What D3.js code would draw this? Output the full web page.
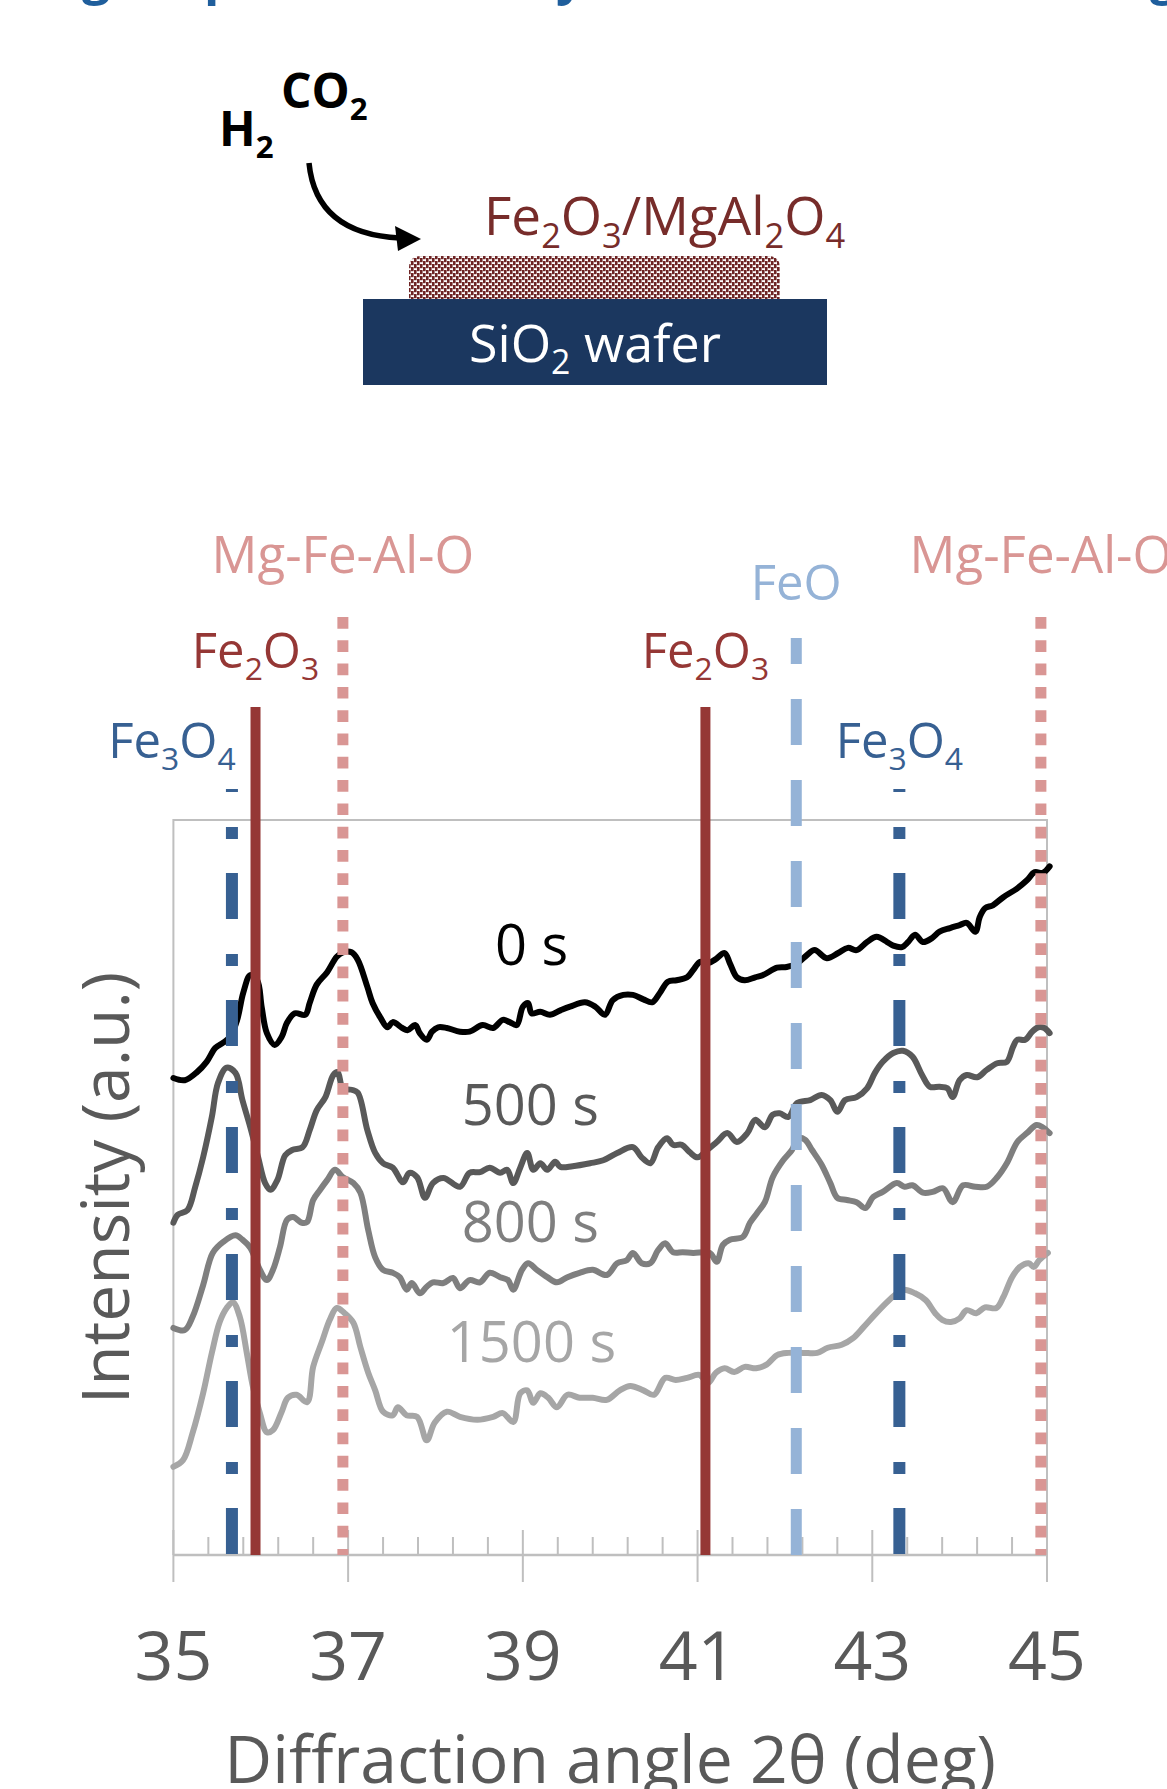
<!DOCTYPE html>
<html>
<head>
<meta charset="utf-8">
<script src="https://cdn.jsdelivr.net/npm/d3@7/dist/d3.min.js"></script>
<style>
  html, body { margin: 0; padding: 0; background: #fff; }
  svg { display: block; font-family: 'Open Sans', sans-serif; }
</style>
</head>
<body>
<div id="container"></div>
<script>
// XRD scans (2theta in deg, stacked intensity in a.u.)
const angle0 = [35.00,35.13,35.27,35.38,35.48,35.57,35.65,35.73,35.80,35.88,35.96,36.01,36.07,36.16,36.24,36.30,36.39,36.51,36.56,36.64,36.76,36.87,36.94,37.04,37.11,37.22,37.28,37.37,37.45,37.51,37.62,37.68,37.77,37.82,37.90,37.96,38.03,38.13,38.28,38.39,38.54,38.66,38.77,38.85,38.93,39.00,39.06,39.10,39.20,39.31,39.43,39.54,39.71,39.83,39.94,40.03,40.15,40.26,40.38,40.48,40.57,40.66,40.76,40.88,40.95,41.03,41.12,41.20,41.31,41.37,41.45,41.54,41.66,41.75,41.91,42.02,42.14,42.25,42.34,42.48,42.61,42.72,42.82,42.94,43.05,43.17,43.24,43.34,43.41,43.49,43.58,43.68,43.77,43.89,44.00,44.08,44.18,44.23,44.29,44.38,44.50,44.66,44.77,44.86,44.95,45.03];
const int0 = [64.9,64.6,65.7,67.1,69.0,69.7,70.5,72.8,76.5,78.9,78.2,74.6,71.0,69.4,70.5,72.4,73.7,73.5,75.1,77.6,79.3,81.4,82.0,82.0,81.0,77.3,75.1,73.1,71.8,72.5,71.7,71.4,72.1,71.0,70.1,71.2,71.8,71.7,71.2,71.2,72.1,71.7,72.8,72.5,72.1,74.6,75.1,73.7,73.9,73.5,74.1,74.6,75.2,74.6,73.5,75.5,76.2,76.2,75.6,75.2,76.5,78.0,78.2,78.6,79.6,80.7,80.5,81.0,81.9,80.5,78.6,78.2,78.6,78.9,79.9,80.0,80.5,81.6,82.3,81.2,81.9,82.6,82.3,83.4,84.1,83.4,82.9,82.7,83.4,84.4,83.4,83.9,84.8,85.3,85.7,86.0,84.8,86.8,88.0,88.4,89.5,90.7,91.8,92.9,92.8,93.7];

const angle500 = [35.00,35.05,35.16,35.25,35.34,35.44,35.51,35.61,35.71,35.79,35.88,35.97,36.05,36.11,36.19,36.28,36.36,36.48,36.56,36.64,36.74,36.83,36.88,36.94,37.04,37.11,37.22,37.31,37.40,37.51,37.63,37.70,37.79,37.88,37.97,38.09,38.28,38.39,38.51,38.62,38.74,38.82,38.89,38.97,39.05,39.12,39.20,39.28,39.37,39.43,39.57,39.77,39.92,40.08,40.26,40.36,40.46,40.55,40.65,40.72,40.82,40.91,41.00,41.11,41.22,41.34,41.45,41.57,41.66,41.77,41.86,41.94,42.04,42.14,42.29,42.42,42.52,42.60,42.69,42.82,42.94,43.03,43.12,43.24,43.35,43.46,43.57,43.66,43.77,43.86,43.92,44.00,44.08,44.20,44.31,44.43,44.54,44.61,44.66,44.75,44.83,44.90,44.97,45.03];
const int500 = [45.2,46.3,46.9,50.1,54.1,59.6,64.2,66.3,65.6,61.9,58.2,54.1,50.6,49.7,51.0,54.4,55.1,55.5,57.8,60.5,62.3,65.3,65.7,63.5,63.3,62.9,57.8,54.7,53.3,52.7,50.7,52.0,51.4,48.6,50.6,51.3,50.1,52.0,52.1,52.7,52.0,52.4,50.6,52.7,54.7,52.4,53.3,52.4,53.5,52.8,52.9,53.3,53.7,54.7,55.5,54.1,53.3,55.5,56.7,55.8,55.8,54.8,54.1,55.1,56.2,57.4,56.2,57.4,59.2,58.2,59.9,60.1,59.6,61.5,61.9,62.6,61.9,60.3,61.9,62.3,63.5,65.6,67.1,68.3,68.6,67.8,65.3,63.7,63.7,63.5,62.3,64.6,65.3,65.0,66.0,66.9,67.1,69.1,70.1,70.1,71.2,71.8,71.7,71.0];

const angle800 = [35.00,35.13,35.22,35.34,35.45,35.57,35.71,35.79,35.88,35.99,36.07,36.14,36.22,36.30,36.37,36.47,36.53,36.60,36.68,36.76,36.85,36.94,37.06,37.14,37.23,37.31,37.40,37.51,37.59,37.67,37.73,37.82,37.90,37.97,38.09,38.20,38.28,38.39,38.51,38.62,38.74,38.83,38.89,38.99,39.06,39.16,39.28,39.39,39.51,39.65,39.80,39.96,40.08,40.19,40.26,40.36,40.46,40.55,40.63,40.72,40.83,40.95,41.14,41.22,41.29,41.37,41.52,41.60,41.68,41.77,41.86,41.98,42.08,42.15,42.23,42.31,42.42,42.52,42.60,42.71,42.82,42.92,43.01,43.12,43.28,43.37,43.46,43.58,43.69,43.81,43.92,44.04,44.18,44.31,44.43,44.54,44.66,44.77,44.88,44.95,45.03];
const int800 = [30.9,30.6,32.4,36.7,41.1,42.6,43.5,42.9,41.8,38.8,37.4,38.8,41.9,45.6,46.0,45.2,45.3,48.3,49.7,51.0,52.4,51.4,50.6,49.3,44.2,40.5,38.8,38.4,37.8,36.1,37.0,35.6,36.5,37.1,37.0,37.7,36.3,37.4,37.1,38.4,37.8,37.4,36.1,38.8,39.7,38.8,37.8,37.1,37.8,38.4,38.8,38.1,39.7,40.1,41.1,39.7,39.7,41.5,42.4,41.2,41.2,41.1,41.1,39.9,42.2,42.9,43.3,45.2,46.5,48.0,51.4,53.7,55.1,56.7,56.5,55.1,53.1,50.6,48.6,48.3,48.0,47.2,48.7,49.4,50.6,50.1,50.3,49.3,49.4,49.9,48.0,50.3,50.1,50.1,51.4,53.3,56.2,57.4,58.5,58.2,57.4];

const angle1500 = [35.00,35.11,35.22,35.34,35.44,35.53,35.61,35.68,35.76,35.84,35.91,35.99,36.07,36.14,36.24,36.31,36.41,36.53,36.60,36.70,36.79,36.87,36.96,37.06,37.14,37.23,37.31,37.40,37.51,37.57,37.67,37.79,37.90,37.99,38.13,38.28,38.48,38.66,38.77,38.89,38.97,39.05,39.12,39.20,39.29,39.39,39.51,39.65,39.80,39.96,40.11,40.23,40.38,40.50,40.63,40.75,40.88,41.02,41.12,41.21,41.31,41.42,41.54,41.67,41.79,41.91,42.04,42.21,42.37,42.49,42.65,42.78,42.90,43.03,43.16,43.26,43.36,43.49,43.61,43.72,43.80,43.90,44.00,44.08,44.19,44.29,44.42,44.50,44.60,44.69,44.79,44.85,44.91,45.01];
const int1500 = [12.0,12.9,16.6,22.0,27.5,31.7,33.6,34.4,32.4,27.5,22.9,19.3,16.7,17.0,19.5,21.4,21.8,20.8,25.6,29.0,32.0,33.6,32.9,31.6,28.3,24.8,22.4,19.5,19.0,20.1,19.0,18.8,15.6,18.0,19.5,18.8,18.4,18.8,19.3,18.1,22.0,22.4,20.7,22.0,21.4,20.1,21.8,21.4,21.4,21.1,22.4,23.0,22.4,21.8,24.1,23.8,24.1,24.5,23.4,24.8,25.4,24.9,25.6,25.4,25.9,27.2,27.5,27.5,27.5,28.2,28.6,29.5,31.0,32.7,34.3,35.4,36.1,35.6,34.7,32.9,32.0,31.7,32.2,33.3,32.9,33.7,33.6,35.1,37.8,39.2,39.7,39.2,40.1,41.1];

const seriesNames = ['0 s', '500 s', '800 s', '1500 s'];
const seriesColors = ['#000000', '#595959', '#7f7f7f', '#a6a6a6'];
const labelAngles = [38.68, 38.30, 38.30, 38.13];
const labelInts = [80.3, 58.5, 42.6, 26.3];

// reference peak positions
const phaseNames = ['Fe3O4', 'Fe2O3', 'Mg-Fe-Al-O', 'Fe2O3', 'FeO', 'Fe3O4', 'Mg-Fe-Al-O'];
const phaseAngles = [35.67, 35.94, 36.94, 41.09, 42.13, 43.31, 44.93];
const phaseLabelShift = [-60, 0, 0, 0, 0, 0, 0];

const xTicks = [35, 37, 39, 41, 43, 45];

const phaseStyle = {
  'Fe3O4':      { color: '#376092', width: 12, dash: '46 35 12 34', offset: 43, top: 789, labelY: 758, size: 49 },
  'Fe2O3':      { color: '#953735', width: 10, dash: null, offset: 0, top: 707, labelY: 668, size: 49 },
  'Mg-Fe-Al-O': { color: '#d99694', width: 11, dash: '11.7 11.6', offset: 0, top: 617, labelY: 573, size: 51 },
  'FeO':        { color: '#95b3d7', width: 11, dash: '46 35', offset: 20, top: 638, labelY: 600, size: 49 }
};

const W = 1167, H = 1789;
const plot = { left: 173.4, right: 1047, top: 820, bottom: 1555 };

const svg = d3.select('#container').append('svg')
  .attr('width', W).attr('height', H);

svg.append('rect').attr('width', W).attr('height', H).attr('fill', '#fff');

// writes a formula with numbers as subscripts
function chem(text, str, size) {
  const parts = str.match(/\d+|\D+/g);
  let prevSub = false;
  parts.forEach(p => {
    const isSub = /^\d+$/.test(p);
    const t = text.append('tspan').text(p);
    if (isSub) t.attr('font-size', size * 0.65).attr('dy', size * 0.24);
    else if (prevSub) t.attr('dy', -size * 0.24);
    prevSub = isSub;
  });
  return text;
}

// descenders of the cut-off heading above
const topGlyphs = [['g', 82], ['p', 204], ['y', 556], ['g', 1150]];
svg.selectAll('.cut').data(topGlyphs).enter().append('text')
  .attr('x', d => d[1]).attr('y', -6)
  .attr('font-size', 50).attr('font-weight', 'bold').attr('fill', '#1f5e9c')
  .text(d => d[0]);

// ---- schematic ----
const schem = svg.append('g');

chem(schem.append('text').attr('x', 281).attr('y', 108)
  .attr('font-size', 48).attr('font-weight', 'bold').attr('fill', '#000'), 'CO2', 48);
chem(schem.append('text').attr('x', 219).attr('y', 146)
  .attr('font-size', 48).attr('font-weight', 'bold').attr('fill', '#000'), 'H2', 48);

schem.append('path')
  .attr('d', 'M309,163 Q316,234 400,238')
  .attr('fill', 'none').attr('stroke', '#000').attr('stroke-width', 5.5);
schem.append('polygon')
  .attr('points', '395,226 421,239 398,251')
  .attr('fill', '#000');

chem(schem.append('text').attr('x', 484).attr('y', 235)
  .attr('font-size', 53).attr('fill', '#772c2a'), 'Fe2O3/MgAl2O4', 53);

const defs = svg.append('defs');
const pat = defs.append('pattern').attr('id', 'particles')
  .attr('patternUnits', 'userSpaceOnUse').attr('width', 6).attr('height', 6);
pat.append('rect').attr('width', 6).attr('height', 6).attr('fill', '#fff');
pat.append('rect').attr('x', 0).attr('y', 0).attr('width', 2.6).attr('height', 4.2).attr('fill', '#6e2424');
pat.append('rect').attr('x', 3).attr('y', 3).attr('width', 2.6).attr('height', 4.2).attr('fill', '#6e2424');
pat.append('rect').attr('x', 3).attr('y', -3).attr('width', 2.6).attr('height', 4.2).attr('fill', '#6e2424');

schem.append('path')
  .attr('d', 'M409,299 V268 Q409,256 421,256 H768 Q780,256 780,268 V299 Z')
  .attr('fill', 'url(#particles)');

schem.append('rect')
  .attr('x', 363).attr('y', 299).attr('width', 464).attr('height', 86)
  .attr('fill', '#1b375f');
chem(schem.append('text').attr('x', 469).attr('y', 362)
  .attr('font-size', 52).attr('fill', '#fff'), 'SiO2 wafer', 52);

// ---- chart ----
const x = d3.scaleLinear().domain([35, 45]).range([plot.left, plot.right]);
const y = d3.scaleLinear().domain([0, 100]).range([plot.bottom, plot.top]);

const axisColor = '#bfbfbf';

// plot frame
svg.append('path')
  .attr('d', `M${plot.left},${plot.bottom} V${plot.top} H${plot.right} V${plot.bottom}`)
  .attr('fill', 'none').attr('stroke', axisColor).attr('stroke-width', 2);

// x axis: minor ticks inside, major ticks crossing
const minorTicks = d3.range(35, 45.001, 0.4).filter(v => !xTicks.some(t => Math.abs(t - v) < 1e-6));
svg.append('g').selectAll('line').data(minorTicks).enter().append('line')
  .attr('x1', d => x(d)).attr('x2', d => x(d))
  .attr('y1', plot.bottom - 18).attr('y2', plot.bottom)
  .attr('stroke', axisColor).attr('stroke-width', 2);
svg.append('g').selectAll('line').data(xTicks).enter().append('line')
  .attr('x1', d => x(d)).attr('x2', d => x(d))
  .attr('y1', plot.bottom - 25).attr('y2', plot.bottom + 27)
  .attr('stroke', axisColor).attr('stroke-width', 2);
svg.append('line')
  .attr('x1', plot.left).attr('x2', plot.right)
  .attr('y1', plot.bottom).attr('y2', plot.bottom)
  .attr('stroke', axisColor).attr('stroke-width', 2.5);

svg.append('g').selectAll('text').data(xTicks).enter().append('text')
  .attr('x', d => x(d)).attr('y', 1680)
  .attr('text-anchor', 'middle').attr('font-size', 68).attr('fill', '#595959')
  .text(d => d);

svg.append('text')
  .attr('x', (plot.left + plot.right) / 2).attr('y', 1783)
  .attr('text-anchor', 'middle').attr('font-size', 66).attr('fill', '#595959')
  .text('Diffraction angle 2θ (deg)');

svg.append('text')
  .attr('transform', 'translate(129,1188) rotate(-90)')
  .attr('text-anchor', 'middle').attr('font-size', 66).attr('fill', '#595959')
  .text('Intensity (a.u.)');

// scans
const series = [
  { a: angle0, v: int0 },
  { a: angle500, v: int500 },
  { a: angle800, v: int800 },
  { a: angle1500, v: int1500 }
];
const line = d3.line()
  .x(d => x(d[0])).y(d => y(d[1]))
  .curve(d3.curveCatmullRom.alpha(0.5));

series.slice().reverse().forEach((s, j) => {
  const i = series.length - 1 - j;
  svg.append('path')
    .datum(d3.zip(s.a, s.v))
    .attr('fill', 'none')
    .attr('stroke', seriesColors[i])
    .attr('stroke-width', 6)
    .attr('stroke-linejoin', 'round')
    .attr('stroke-linecap', 'round')
    .attr('d', line);
});

svg.append('g').selectAll('text').data(seriesNames).enter().append('text')
  .attr('x', (d, i) => x(labelAngles[i])).attr('y', (d, i) => y(labelInts[i]))
  .attr('font-size', 56).attr('fill', (d, i) => seriesColors[i])
  .text(d => d);

// reference lines on top
phaseNames.forEach((name, i) => {
  const st = phaseStyle[name];
  const px = x(phaseAngles[i]);
  const l = svg.append('line')
    .attr('x1', px).attr('x2', px)
    .attr('y1', st.top).attr('y2', plot.bottom)
    .attr('stroke', st.color).attr('stroke-width', st.width);
  if (st.dash) l.attr('stroke-dasharray', st.dash).attr('stroke-dashoffset', st.offset);

  chem(svg.append('text')
    .attr('x', px + phaseLabelShift[i]).attr('y', st.labelY)
    .attr('text-anchor', 'middle').attr('font-size', st.size).attr('fill', st.color),
    name, st.size);
});
</script>
</body>
</html>
